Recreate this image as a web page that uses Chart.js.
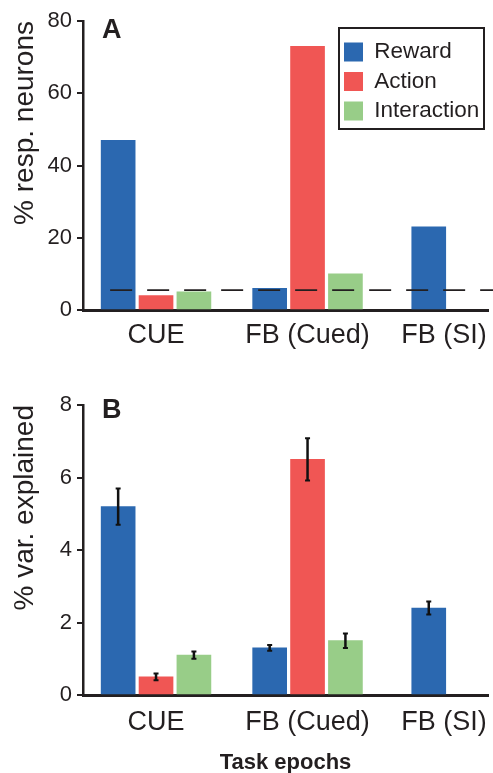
<!DOCTYPE html>
<html>
<head>
<meta charset="utf-8">
<title>Task epochs</title>
<script src="https://cdn.jsdelivr.net/npm/chart.js@4.4.0/dist/chart.umd.min.js"></script>
<style>
  body { margin: 0; background: #fff; }
  canvas { display: block; }
</style>
</head>
<body>
<canvas id="respChart" width="493" height="370"></canvas>
<canvas id="varChart" width="493" height="403"></canvas>
<script>
// Categories and series
const epochs = ['CUE', 'FB (Cued)', 'FB (SI)'];
const seriesNames = ['Reward', 'Action', 'Interaction'];

// Panel A: % responsive neurons
const respReward = [47, 6, 23];
const respAction = [4, 73, null];
const respInteraction = [5, 10, null];
const chanceLevel = 5.5;

// Panel B: % variance explained, with error bars
const varReward = [5.2, 1.3, 2.4];
const varRewardErr = [0.5, 0.08, 0.18];
const varAction = [0.5, 6.5, null];
const varActionErr = [0.09, 0.58, null];
const varInteraction = [1.1, 1.5, null];
const varInteractionErr = [0.1, 0.2, null];

// Layout on the x axis (in group units)
const groupX = [0, 1, 2.05];
const barOffset = [-0.25, 0, 0.25];
const labelX = [0, 1, 1.9];

const ink = '#231f20';
const colors = ['#2b68b0', '#f05654', '#98cd88'];

Chart.defaults.font.family = '"Liberation Sans", Arial, Helvetica, sans-serif';
Chart.defaults.color = ink;

function buildDatasets(values, errors) {
    return seriesNames.map((name, k) => ({
        label: name,
        data: values[k]
            .map((v, g) => v == null ? null : {
                x: groupX[g] + barOffset[k],
                y: v,
                err: errors ? errors[k][g] : null
            })
            .filter(p => p),
        backgroundColor: colors[k],
        borderWidth: 0,
        barThickness: 34,
        grouped: false
    }));
}

// Dashed chance level line (panel A)
const chanceLine = {
    id: 'chanceLine',
    afterDatasetsDraw(chart, args, opts) {
        if (opts.value == null) return;
        const ctx = chart.ctx;
        const y = chart.scales.y.getPixelForValue(opts.value);
        const first = chart.getDatasetMeta(0).data[0];
        const x0 = first.x - first.width / 2;
        ctx.save();
        ctx.strokeStyle = ink;
        ctx.lineWidth = 1.6;
        ctx.setLineDash([22, 15]);
        ctx.lineDashOffset = 28;
        ctx.beginPath();
        ctx.moveTo(x0, y);
        ctx.lineTo(chart.width, y);
        ctx.stroke();
        ctx.restore();
    }
};

// Error bars (panel B)
const errorBars = {
    id: 'errorBars',
    afterDatasetsDraw(chart) {
        const ctx = chart.ctx;
        const yScale = chart.scales.y;
        ctx.save();
        ctx.strokeStyle = '#111';
        chart.data.datasets.forEach((ds, i) => {
            const meta = chart.getDatasetMeta(i);
            ds.data.forEach((p, j) => {
                if (p.err == null) return;
                const x = meta.data[j].x;
                const top = yScale.getPixelForValue(p.y + p.err);
                const bot = yScale.getPixelForValue(p.y - p.err);
                ctx.lineWidth = 2.5;
                ctx.beginPath();
                ctx.moveTo(x, top);
                ctx.lineTo(x, bot);
                ctx.stroke();
                ctx.lineWidth = 2;
                ctx.beginPath();
                ctx.moveTo(x - 2.5, top); ctx.lineTo(x + 2.5, top);
                ctx.moveTo(x - 2.5, bot); ctx.lineTo(x + 2.5, bot);
                ctx.stroke();
            });
        });
        ctx.restore();
    }
};

// Panel letter
const panelLabel = {
    id: 'panelLabel',
    afterDraw(chart, args, opts) {
        const a = chart.chartArea;
        const ctx = chart.ctx;
        ctx.save();
        ctx.fillStyle = ink;
        ctx.font = 'bold 27px "Liberation Sans", Arial, sans-serif';
        ctx.textBaseline = 'alphabetic';
        ctx.fillText(opts.text, a.left + 19, a.top + opts.dy);
        ctx.restore();
    }
};

// Move the legend to the top right corner and frame it
const legendFrame = {
    id: 'legendFrame',
    afterLayout(chart) {
        const lg = chart.legend;
        const a = chart.chartArea;
        lg.left = a.right - 151;
        lg.top = a.top + 12.75;
        lg.right = lg.left + lg.width;
        lg.bottom = lg.top + lg.height;
    },
    afterDraw(chart) {
        const a = chart.chartArea;
        const ctx = chart.ctx;
        ctx.save();
        ctx.strokeStyle = ink;
        ctx.lineWidth = 2;
        ctx.strokeRect(a.right - 149, a.top + 7, 145, 101);
        ctx.restore();
    }
};

function makeOptions(cfg) {
    return {
        responsive: false,
        animation: false,
        events: [],
        layout: { padding: { top: cfg.top, right: 5, left: 0, bottom: 0 } },
        plugins: {
            legend: cfg.legend ? {
                display: true,
                position: 'chartArea',
                align: 'start',
                labels: {
                    boxWidth: 19,
                    boxHeight: 19,
                    padding: 7,
                    color: ink,
                    font: { size: 22.5 }
                }
            } : { display: false },
            tooltip: { enabled: false },
            chanceLine: { value: cfg.chance },
            panelLabel: { text: cfg.letter, dy: cfg.letterDy }
        },
        scales: {
            x: {
                type: 'linear',
                min: -0.482,
                max: 2.191,
                offset: false,
                grid: { display: false, drawTicks: false },
                border: { display: true, color: ink, width: 3 },
                afterBuildTicks: s => { s.ticks = labelX.map(v => ({ value: v })); },
                afterFit: s => { s.height = cfg.xHeight; s.paddingLeft = 0; s.paddingRight = 0; },
                ticks: {
                    autoSkip: false,
                    maxRotation: 0,
                    minRotation: 0,
                    padding: cfg.xPad,
                    color: ink,
                    font: { size: 27 },
                    callback: (v, i) => epochs[i]
                },
                title: cfg.xTitle ? {
                    display: true,
                    text: cfg.xTitle,
                    color: ink,
                    font: { size: 22, weight: 'bold', lineHeight: 1 },
                    padding: { top: 0, bottom: -1 }
                } : { display: false }
            },
            y: {
                min: 0,
                max: cfg.yMax,
                ticks: { stepSize: cfg.yStep, padding: 5, color: ink, font: { size: 22 } },
                grid: { drawOnChartArea: false, drawTicks: true, tickLength: 6, color: ink, lineWidth: 2 },
                border: { display: true, color: ink, width: 2.5 },
                title: {
                    display: true,
                    text: cfg.yTitle,
                    align: 'end',
                    color: ink,
                    font: { size: 28 },
                    padding: { top: 8, bottom: 0 }
                },
                afterFit: s => { s.width = 83; s.paddingTop = 0; s.paddingBottom = 0; }
            }
        }
    };
}

new Chart(document.getElementById('respChart'), {
    type: 'bar',
    data: { datasets: buildDatasets([respReward, respAction, respInteraction], null) },
    options: makeOptions({
        top: 21, xHeight: 60, xPad: 9,
        yMax: 80, yStep: 20, yTitle: '% resp. neurons',
        legend: true, chance: chanceLevel,
        letter: 'A', letterDy: 17
    }),
    plugins: [chanceLine, panelLabel, legendFrame]
});

new Chart(document.getElementById('varChart'), {
    type: 'bar',
    data: {
        datasets: buildDatasets(
            [varReward, varAction, varInteraction],
            [varRewardErr, varActionErr, varInteractionErr]
        )
    },
    options: makeOptions({
        top: 35, xHeight: 78, xPad: 11,
        yMax: 8, yStep: 2, yTitle: '% var. explained',
        legend: false, chance: null, xTitle: 'Task epochs',
        letter: 'B', letterDy: 13
    }),
    plugins: [errorBars, panelLabel]
});
</script>
</body>
</html>
